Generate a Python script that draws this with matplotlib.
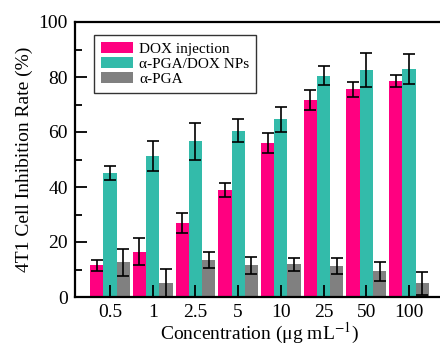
import numpy as np
import matplotlib.pyplot as plt
from matplotlib.ticker import MultipleLocator

plt.rcParams['font.family'] = ['Liberation Serif', 'DejaVu Serif']
plt.rcParams['mathtext.fontset'] = 'stix'

# Data
concentrations = ['0.5', '1', '2.5', '5', '10', '25', '50', '100']
dox = [11.5, 16.5, 26.8, 38.9, 55.9, 71.6, 75.5, 78.4]
dox_err = [2.0, 5.0, 3.7, 2.4, 3.7, 3.6, 2.8, 2.2]
nps = [45.0, 51.3, 56.7, 60.5, 64.6, 80.5, 82.5, 82.9]
nps_err = [2.5, 5.3, 6.7, 4.2, 4.6, 3.5, 6.2, 5.5]
pga = [12.6, 5.1, 13.5, 11.6, 11.9, 11.2, 9.3, 5.0]
pga_err = [4.8, 5.0, 3.0, 3.1, 2.4, 3.0, 3.4, 4.2]

fig = plt.figure(figsize=(4.4, 3.45), dpi=100)
ax = fig.add_axes([75/440, 1-297/345, (444-75)/440, (297-22)/345])

x = np.arange(len(concentrations))
w = 0.31
ekw = dict(ecolor='black', elinewidth=1.2, capsize=4, capthick=1.2)
ax.bar(x - w, dox, w, yerr=dox_err, color='#ff0080', label='DOX injection', error_kw=ekw)
ax.bar(x, nps, w, yerr=nps_err, color='#33bbaa', label='α-PGA/DOX NPs', error_kw=ekw)
ax.bar(x + w, pga, w, yerr=pga_err, color='#808080', label='α-PGA', error_kw=ekw)

ax.set_xlim(-0.82, 7.82)
ax.set_ylim(0, 100)
ax.set_xticks(x)
ax.set_xticklabels(concentrations)
ax.yaxis.set_major_locator(MultipleLocator(20))
ax.yaxis.set_minor_locator(MultipleLocator(10))
ax.tick_params(axis='both', which='major', direction='in', length=8.5, width=1.3, labelsize=14, pad=5)
ax.tick_params(axis='y', which='minor', direction='in', length=5, width=1.3)
for s in ax.spines.values():
    s.set_linewidth(1.6)

ax.set_xlabel('Concentration (μg mL$^{-1}$)', fontsize=14, labelpad=0)
ax.set_ylabel('4T1 Cell Inhibition Rate (%)', fontsize=14, labelpad=4)

leg = ax.legend(loc='upper left', bbox_to_anchor=(0.051, 0.953), fontsize=11,
                frameon=True, fancybox=False, edgecolor='#333333', framealpha=1,
                handlelength=2.1, handleheight=0.75, handletextpad=0.4,
                labelspacing=0.08, borderpad=0.45, borderaxespad=0)
leg.get_frame().set_linewidth(1.0)

fig.savefig('out.png', dpi=100)
